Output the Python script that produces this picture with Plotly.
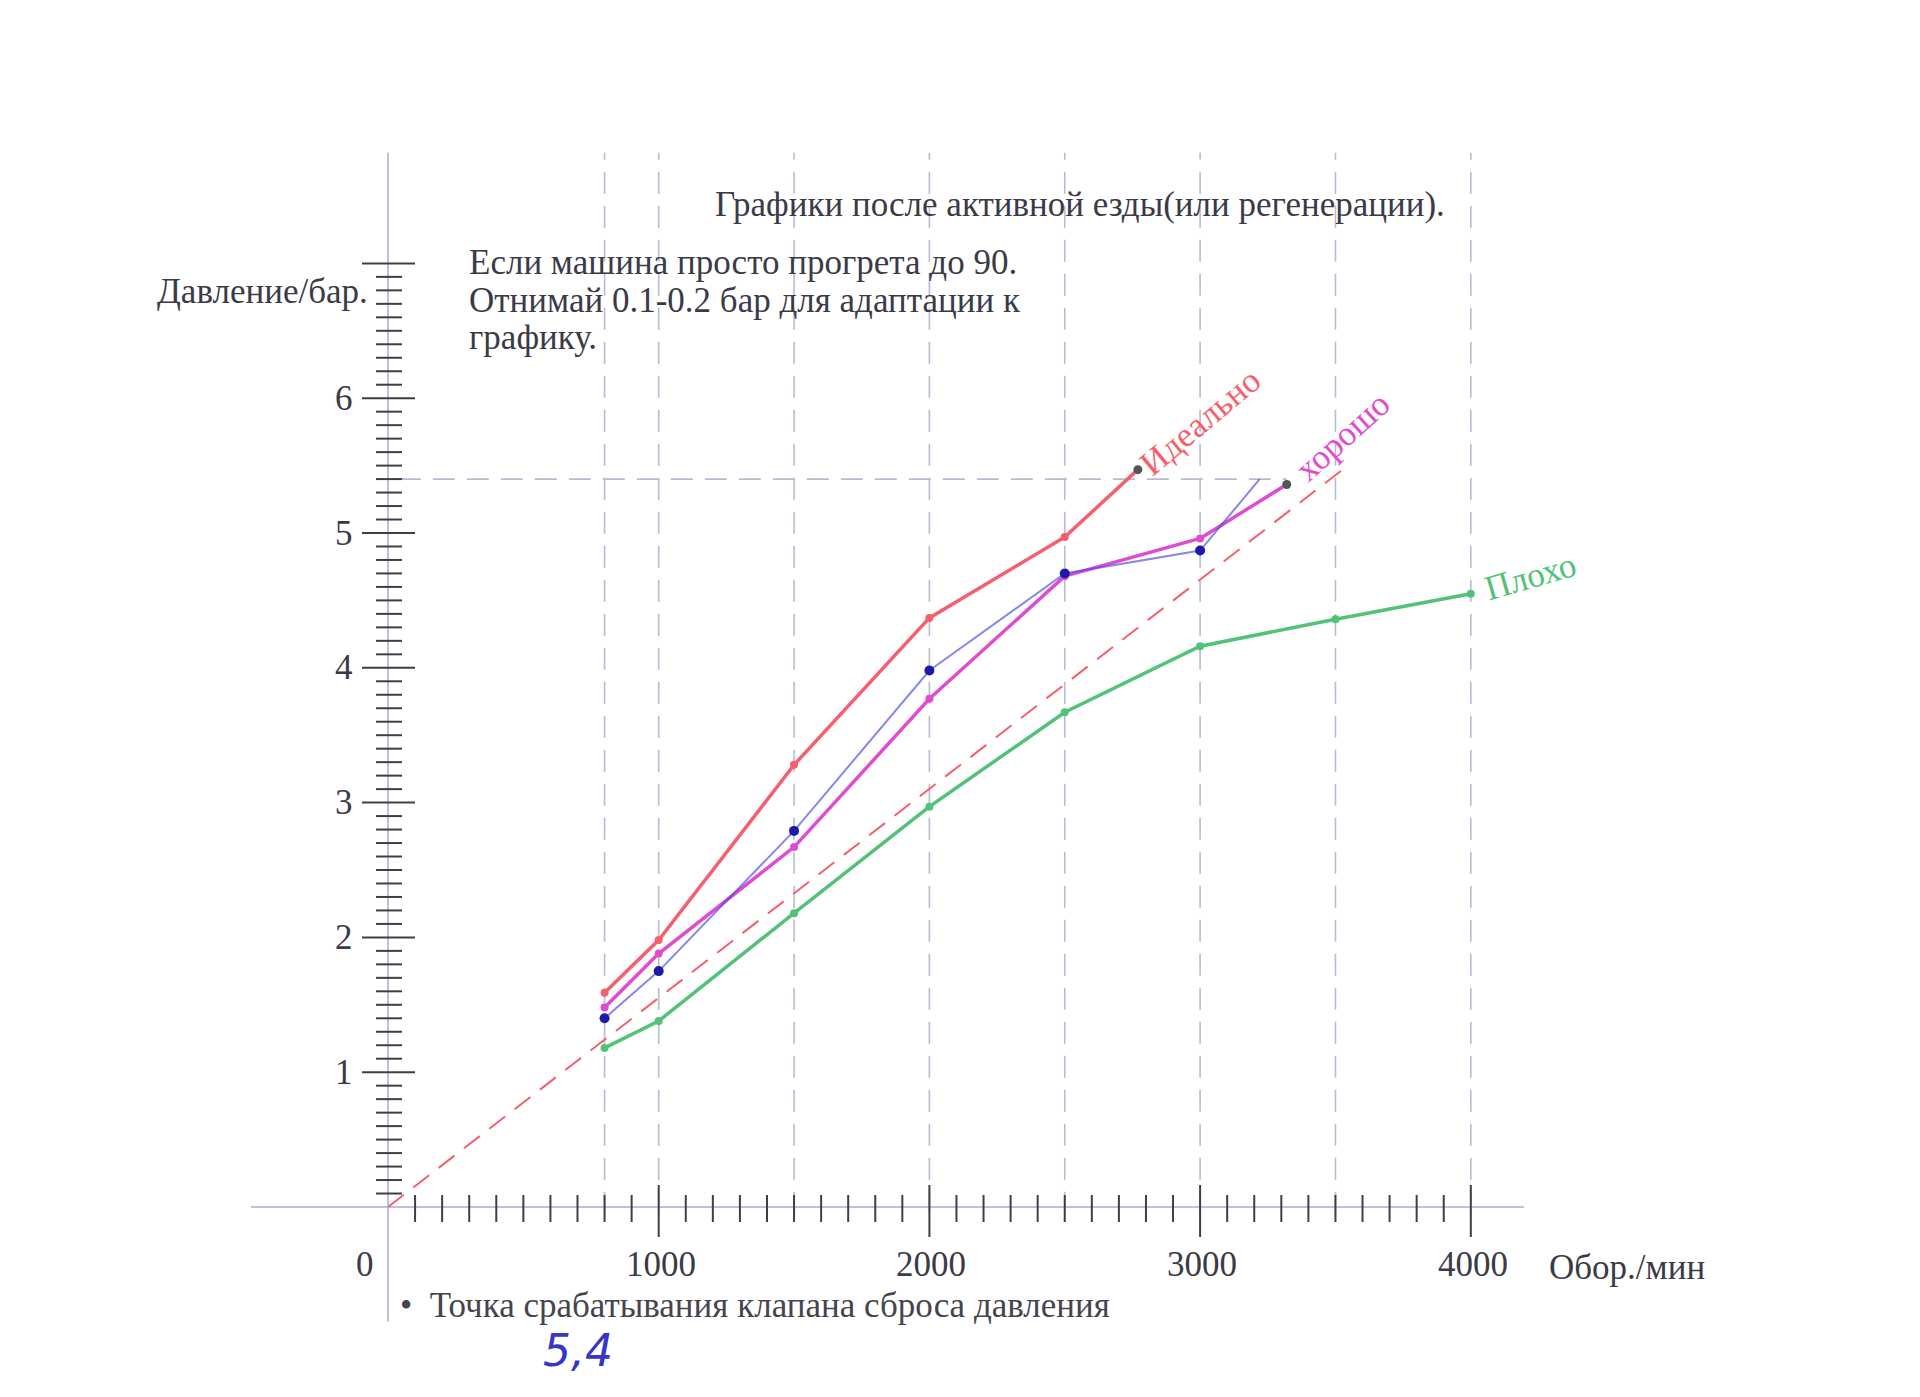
import plotly.graph_objects as go

# ---------------- data ----------------
IDEAL_RPM = [800, 1000, 1500, 2000, 2500, 2770]
IDEAL_BAR = [1.59, 1.98, 3.28, 4.37, 4.97, 5.47]

GOOD_RPM = [800, 1000, 1500, 2000, 2500, 3000, 3320]
GOOD_BAR = [1.48, 1.88, 2.67, 3.77, 4.68, 4.96, 5.36]

MEAS_RPM = [800, 1000, 1500, 2000, 2500, 3000, 3220]
MEAS_BAR = [1.40, 1.75, 2.79, 3.98, 4.70, 4.87, 5.40]

BAD_RPM = [800, 1000, 1500, 2000, 2500, 3000, 3500, 4000]
BAD_BAR = [1.18, 1.38, 2.18, 2.97, 3.67, 4.16, 4.36, 4.55]

REF_RPM = [0, 3520]
REF_BAR = [0, 5.46]

RELIEF_BAR = 5.4            # valve opening pressure
RELIEF_RPM_END = 3320

GRID_RPM = [800, 1000, 1500, 2000, 2500, 3000, 3500, 4000]
X_LABELS = [0, 1000, 2000, 3000, 4000]
Y_LABELS = [1, 2, 3, 4, 5, 6]
X_MINOR = [v for v in range(100, 4000, 100) if v % 1000 != 0]
X_MAJOR = [1000, 2000, 3000, 4000]
Y_MINOR = [v / 10 for v in range(1, 70) if v % 10 != 0]
Y_MAJOR = [1, 2, 3, 4, 5, 6, 7]

# ---------------- style ----------------
FONT = "Liberation Serif"
TXT = "#3b3b48"
GRIDC = "#b6bdd3"
AXC = "#bcc3d8"
TICKC = "#3e3e48"
RED = "#f55f6e"
MAG = "#e04cd0"
GREEN = "#52c278"
NAVY = "#1d1aa8"
GREY = "#555558"

fig = go.Figure()

# reference dashed line
fig.add_trace(go.Scatter(x=REF_RPM, y=REF_BAR, mode="lines",
                         line=dict(color=RED, width=2, dash="20px,12px"), hoverinfo="skip"))
# bad
fig.add_trace(go.Scatter(x=BAD_RPM, y=BAD_BAR, mode="lines+markers",
                         line=dict(color=GREEN, width=3.5), marker=dict(size=8, color=GREEN)))
# ideal
fig.add_trace(go.Scatter(x=IDEAL_RPM[:-1], y=IDEAL_BAR[:-1], mode="lines+markers",
                         line=dict(color=RED, width=3.5), marker=dict(size=8, color=RED)))
fig.add_trace(go.Scatter(x=IDEAL_RPM[-2:], y=IDEAL_BAR[-2:], mode="lines",
                         line=dict(color=RED, width=3.5)))
# good
fig.add_trace(go.Scatter(x=GOOD_RPM[:-1], y=GOOD_BAR[:-1], mode="lines+markers",
                         line=dict(color=MAG, width=3.5), marker=dict(size=8, color=MAG)))
fig.add_trace(go.Scatter(x=GOOD_RPM[-2:], y=GOOD_BAR[-2:], mode="lines",
                         line=dict(color=MAG, width=3.5)))
# measured (hand-drawn blue)
fig.add_trace(go.Scatter(x=MEAS_RPM, y=MEAS_BAR, mode="lines",
                         line=dict(color="rgba(70,70,225,0.65)", width=2)))
fig.add_trace(go.Scatter(x=MEAS_RPM[:-1], y=MEAS_BAR[:-1], mode="markers",
                         marker=dict(size=10, color=NAVY)))
# relief valve points
fig.add_trace(go.Scatter(x=[IDEAL_RPM[-1], GOOD_RPM[-1]], y=[IDEAL_BAR[-1], GOOD_BAR[-1]],
                         mode="markers", marker=dict(size=9, color=GREY)))

shapes = []
# vertical dashed grid
for g in GRID_RPM:
    shapes.append(dict(type="line", xref="x", yref="y", x0=g, x1=g, y0=-0.05, y1=7.82,
                       line=dict(color=GRIDC, width=1.6, dash="22px,12px"), layer="below"))
# relief horizontal dashed line
shapes.append(dict(type="line", xref="x", yref="y", x0=40, x1=RELIEF_RPM_END,
                   y0=RELIEF_BAR, y1=RELIEF_BAR,
                   line=dict(color=GRIDC, width=1.6, dash="22px,12px"), layer="below"))
# axes lines
shapes.append(dict(type="line", xref="x", yref="y", x0=0, x1=0, y0=-0.85, y1=7.82,
                   line=dict(color=AXC, width=2), layer="below"))
shapes.append(dict(type="line", xref="x", yref="y", x0=-506, x1=4196, y0=0, y1=0,
                   line=dict(color=AXC, width=2), layer="below"))
# x ticks
for v in X_MINOR:
    shapes.append(dict(type="line", xref="x", yref="y", ysizemode="pixel", yanchor=0,
                       x0=v, x1=v, y0=-15, y1=12, line=dict(color=TICKC, width=2)))
for v in X_MAJOR:
    shapes.append(dict(type="line", xref="x", yref="y", ysizemode="pixel", yanchor=0,
                       x0=v, x1=v, y0=-30, y1=22, line=dict(color=TICKC, width=2)))
# y ticks
for v in Y_MINOR:
    shapes.append(dict(type="line", xref="x", yref="y", xsizemode="pixel", xanchor=0,
                       x0=-12, x1=14, y0=v, y1=v, line=dict(color=TICKC, width=2)))
for v in Y_MAJOR:
    shapes.append(dict(type="line", xref="x", yref="y", xsizemode="pixel", xanchor=0,
                       x0=-26, x1=27, y0=v, y1=v, line=dict(color=TICKC, width=2)))

ann = []
fs = 35
for v in Y_LABELS:
    ann.append(dict(x=0, y=v, xref="x", yref="y", text=str(v), showarrow=False,
                    xanchor="right", yanchor="middle", xshift=-33,
                    font=dict(family=FONT, size=fs, color=TXT)))
for v in X_LABELS:
    ann.append(dict(x=v, y=0, xref="x", yref="y", text=str(v), showarrow=False,
                    xanchor="center", yanchor="middle", yshift=-57,
                    xshift=(-23 if v == 0 else 2),
                    font=dict(family=FONT, size=fs, color=TXT)))
ann.append(dict(x=4196, y=0, xref="x", yref="y", text="Обор./мин", showarrow=False,
                xanchor="left", yanchor="middle", xshift=23, yshift=-60,
                font=dict(family=FONT, size=fs, color=TXT)))
ann.append(dict(x=0, y=6.79, xref="x", yref="y", text="Давление/бар.", showarrow=False,
                xanchor="right", yanchor="middle", xshift=-18,
                font=dict(family=FONT, size=fs, color=TXT)))
ann.append(dict(x=1080 / 1920, y=1 - 205 / 1397, xref="paper", yref="paper",
                text="Графики после активной езды(или регенерации).", showarrow=False,
                xanchor="center", yanchor="middle",
                font=dict(family=FONT, size=fs, color=TXT)))
NOTE = ["Если машина просто прогрета до 90.",
        "Отнимай 0.1-0.2 бар для адаптации к",
        "графику."]
for i, (line, ypx) in enumerate(zip(NOTE, [262, 300, 338])):
    ann.append(dict(x=467 / 1920, y=1 - ypx / 1397, xref="paper", yref="paper",
                    text=line, showarrow=False, xanchor="left", yanchor="middle",
                    font=dict(family=FONT, size=fs, color=TXT)))
# series labels
ann.append(dict(x=IDEAL_RPM[-1], y=IDEAL_BAR[-1], xref="x", yref="y", text="Идеально",
                showarrow=False, textangle=-40, xanchor="center", yanchor="middle",
                xshift=63, yshift=48, font=dict(family=FONT, size=fs, color=RED)))
ann.append(dict(x=GOOD_RPM[-1], y=GOOD_BAR[-1], xref="x", yref="y", text="хорошо",
                showarrow=False, textangle=-42, xanchor="center", yanchor="middle",
                xshift=56, yshift=48, font=dict(family=FONT, size=fs, color=MAG)))
ann.append(dict(x=BAD_RPM[-1], y=BAD_BAR[-1], xref="x", yref="y", text="Плохо",
                showarrow=False, textangle=-16, xanchor="center", yanchor="middle",
                xshift=60, yshift=17, font=dict(family=FONT, size=fs, color=GREEN)))
# legend note
ann.append(dict(x=398 / 1920, y=1 - 1305 / 1397, xref="paper", yref="paper",
                text="•  Точка срабатывания клапана сброса давления", showarrow=False,
                xanchor="left", yanchor="middle",
                font=dict(family=FONT, size=fs, color="#45454f")))
ann.append(dict(x=578 / 1920, y=1 - 1350 / 1397, xref="paper", yref="paper",
                text="<i>5,4</i>", showarrow=False, xanchor="center", yanchor="middle",
                font=dict(family="DejaVu Sans", size=44, color="#3636c8")))

fig.update_layout(
    width=1920, height=1397,
    margin=dict(l=0, r=0, t=0, b=0),
    paper_bgcolor="white", plot_bgcolor="white",
    showlegend=False,
    xaxis=dict(range=[-1433.3, 5659.4], visible=False, fixedrange=True),
    yaxis=dict(range=[-1.4095, 8.954], visible=False, fixedrange=True),
    shapes=shapes, annotations=ann,
)

fig.write_html("out.html", config={"displayModeBar": False},
               post_script="document.body.style.margin='0';document.body.style.overflow='hidden';")
